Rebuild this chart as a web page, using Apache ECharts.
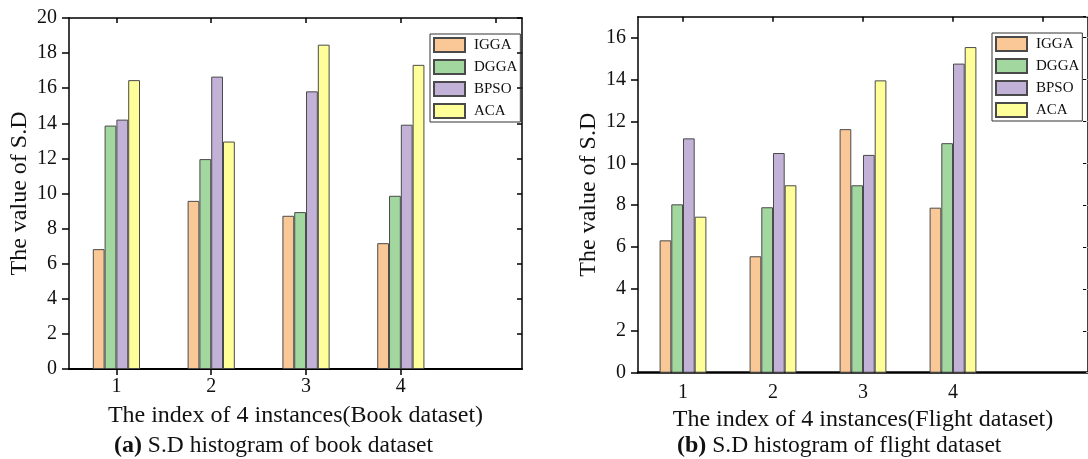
<!DOCTYPE html>
<html>
<head>
<meta charset="utf-8">
<script src="https://cdn.jsdelivr.net/npm/echarts@6/dist/echarts.min.js"></script>
<style>
html, body { margin: 0; padding: 0; background: #fff; }
#main { width: 1088px; height: 459px; }
</style>
</head>
<body>
<div id="main"></div>
<script>
var instances = [1, 2, 3, 4];
var topTicks = [1, 2, 3, 4, 5];
var seriesNames = ['IGGA', 'DGGA', 'BPSO', 'ACA'];
var colors = ['#FAC896', '#A3D7A0', '#C3B2D7', '#FFFF99'];

// (a) book dataset
var bookIGGA = [6.83, 9.58, 8.73, 7.17];
var bookDGGA = [13.87, 11.96, 8.94, 9.87];
var bookBPSO = [14.21, 16.66, 15.82, 13.92];
var bookACA  = [16.46, 12.96, 18.48, 17.33];

// (b) flight dataset
var flightIGGA = [6.32, 5.56, 11.63, 7.88];
var flightDGGA = [8.04, 7.90, 8.95, 10.96];
var flightBPSO = [11.19, 10.49, 10.40, 14.76];
var flightACA  = [7.45, 8.95, 13.96, 15.55];

var font = 'Liberation Serif';
var myChart = echarts.init(document.getElementById('main'));

function pairs(vals) {
    return instances.map(function (c, i) { return [c, vals[i]]; });
}

function bars(data, xi, yi, w) {
    return data.map(function (vals, k) {
        return {
            name: seriesNames[k],
            type: 'bar',
            xAxisIndex: xi,
            yAxisIndex: yi,
            barWidth: w,
            barGap: '0%',
            itemStyle: { color: colors[k], borderColor: '#4a4a4a', borderWidth: 1 },
            data: pairs(vals)
        };
    });
}

function legend(left, top) {
    return {
        orient: 'vertical',
        left: left,
        top: top,
        data: seriesNames.map(function (n) { return { name: n, icon: 'rect' }; }),
        itemWidth: 31,
        itemHeight: 14,
        itemGap: 6,
        padding: [3, 3, 3, 3],
        borderColor: '#333',
        borderWidth: 1,
        borderRadius: 0,
        textStyle: { fontFamily: font, fontSize: 15, color: '#111', padding: [0, 0, 0, 4] }
    };
}

var line = function (w) { return { show: true, onZero: false, lineStyle: { color: '#000', width: w } }; };

function caption(left, tag, text) {
    return {
        left: left, top: 429,
        text: '{b|' + tag + '}{t| ' + text + '}',
        textStyle: { rich: {
            b: { fontFamily: font, fontSize: 24, fontWeight: 'bold', color: '#111' },
            t: { fontFamily: font, fontSize: 23.5, fontWeight: 'normal', color: '#111' }
        } }
    };
}

var option = {
    animation: false,
    title: [
        caption(109, '(a)', 'S.D histogram of book dataset'),
        caption(672, '(b)', 'S.D histogram of flight dataset')
    ],
    legend: [legend(430, 34), legend(992, 33)],
    grid: [
        { left: 69, top: 18, width: 453, height: 351 },
        { left: 638, top: 16.7, width: 466, height: 356 },
        { left: 1092, top: 16.7, width: 300, height: 356 }
    ],
    xAxis: [
        {
            gridIndex: 0, type: 'value', position: 'bottom', min: 0.5, max: 5.278,
            axisLine: line(2),
            axisTick: { show: true, inside: false, length: 6, customValues: instances, lineStyle: { color: '#000', width: 1.5 } },
            axisLabel: { customValues: instances, margin: 8, fontFamily: font, fontSize: 20, color: '#111' },
            splitLine: { show: false },
            name: 'The index of 4 instances(Book dataset)',
            nameLocation: 'middle', nameGap: 35,
            nameTextStyle: { fontFamily: font, fontSize: 24, color: '#111' }
        },
        {
            gridIndex: 0, type: 'value', position: 'top', min: 0.5, max: 5.278,
            axisLine: line(1.5),
            axisTick: { show: true, inside: true, length: 5, customValues: topTicks, lineStyle: { color: '#000', width: 1.5 } },
            axisLabel: { show: false },
            splitLine: { show: false }
        },
        {
            gridIndex: 1, type: 'value', position: 'bottom', min: 0.5, max: 5.5,
            axisLine: line(2.5),
            axisTick: { show: false },
            axisLabel: { customValues: instances, margin: 10, fontFamily: font, fontSize: 20, color: '#111' },
            splitLine: { show: false },
            name: 'The index of 4 instances(Flight dataset)',
            nameLocation: 'middle', nameGap: 32,
            nameTextStyle: { fontFamily: font, fontSize: 24, color: '#111' }
        },
        {
            gridIndex: 1, type: 'value', position: 'top', min: 0.5, max: 5.5,
            axisLine: line(1.5),
            axisTick: { show: true, inside: true, length: 5, customValues: topTicks, lineStyle: { color: '#000', width: 1.5 } },
            axisLabel: { show: false },
            splitLine: { show: false }
        },
        {
            gridIndex: 2, type: 'value', show: false, min: 0, max: 1
        }
    ],
    yAxis: [
        {
            gridIndex: 0, type: 'value', position: 'left', min: 0, max: 20, interval: 2,
            axisLine: line(1.5),
            axisTick: { show: true, inside: false, length: 7, lineStyle: { color: '#000', width: 1.5 } },
            axisLabel: { margin: 12, fontFamily: font, fontSize: 20, color: '#111' },
            splitLine: { show: false },
            name: 'The value of S.D',
            nameLocation: 'middle', nameGap: 37, nameRotate: 90,
            nameTextStyle: { fontFamily: font, fontSize: 24, color: '#111' }
        },
        {
            gridIndex: 0, type: 'value', position: 'right', min: 0, max: 20, interval: 2,
            axisLine: line(1.5),
            axisTick: { show: true, inside: true, length: 5, lineStyle: { color: '#000', width: 1.5 } },
            axisLabel: { show: false },
            splitLine: { show: false }
        },
        {
            gridIndex: 1, type: 'value', position: 'left', min: 0, max: 17, interval: 2,
            axisLine: line(1.5),
            axisTick: { show: true, inside: false, length: 7, lineStyle: { color: '#000', width: 1.5 } },
            axisLabel: { margin: 12, showMaxLabel: false, fontFamily: font, fontSize: 20, color: '#111' },
            splitLine: { show: false },
            name: 'The value of S.D',
            nameLocation: 'middle', nameGap: 37, nameRotate: 90,
            nameTextStyle: { fontFamily: font, fontSize: 24, color: '#111' }
        },
        {
            gridIndex: 1, type: 'value', position: 'right', min: 0, max: 17, interval: 2,
            axisLine: line(1.5),
            axisTick: { show: true, inside: true, length: 5 },
            axisLabel: { show: false },
            splitLine: { show: false }
        },
        {
            // edge of the next panel, cut off on the right
            gridIndex: 2, type: 'value', position: 'left', min: 0, max: 17, interval: 2,
            axisLine: { show: false },
            axisTick: { show: true, inside: false, length: 6, lineStyle: { color: '#aaa', width: 1 } },
            axisLabel: { show: false },
            splitLine: { show: false }
        }
    ],
    series: bars([bookIGGA, bookDGGA, bookBPSO, bookACA], 0, 0, 11.8)
        .concat(bars([flightIGGA, flightDGGA, flightBPSO, flightACA], 2, 2, 11.7))
};

myChart.setOption(option);
</script>
</body>
</html>
